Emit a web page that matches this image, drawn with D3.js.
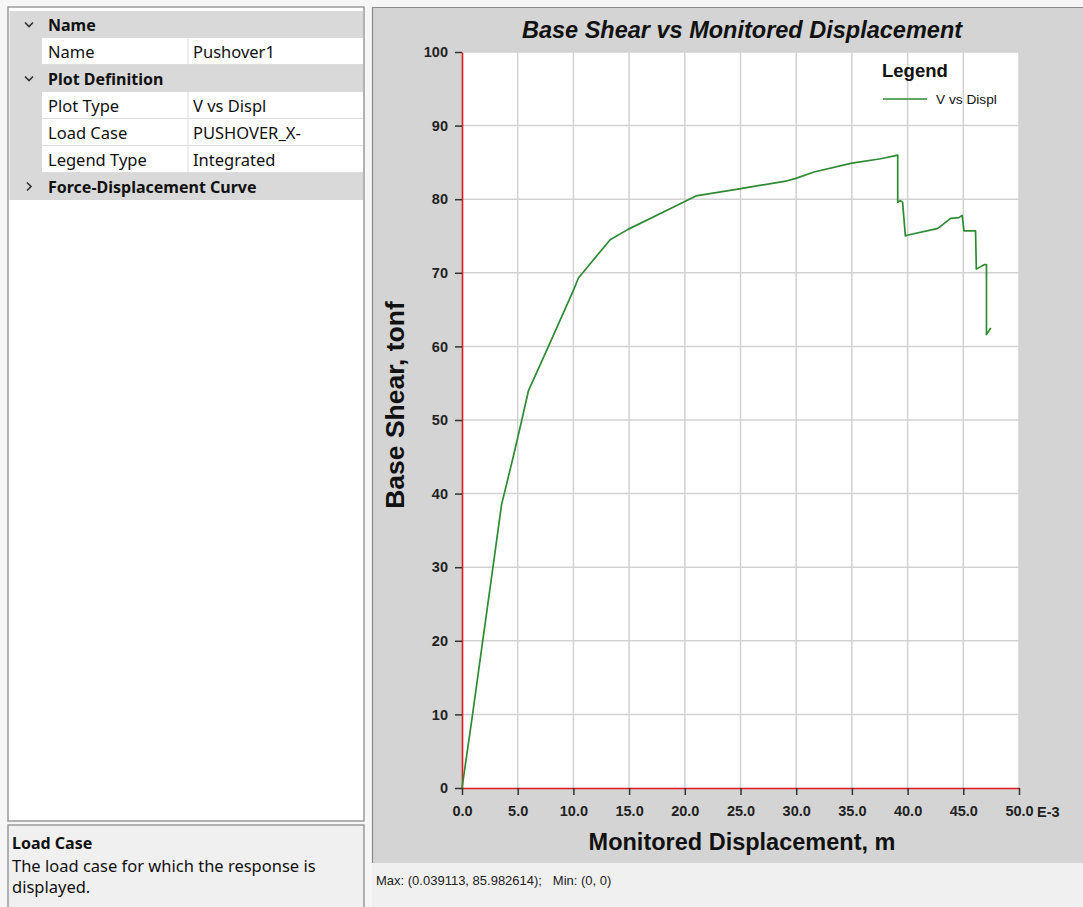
<!DOCTYPE html>
<html>
<head>
<meta charset="utf-8">
<script src="https://cdn.jsdelivr.net/npm/d3@7"></script>
<style>
  html, body { margin: 0; padding: 0; background: #f6f6f6; }
  svg { display: block; }
</style>
</head>
<body>
<svg id="chart" width="1083" height="907"></svg>
<script>
// ---------------- data ----------------
const dispE3 = [0, 0.95, 1.86, 2.78, 3.55, 4.6, 5.37, 5.97, 7.76, 10.0, 10.45, 13.3, 14.9, 19.5, 21.0, 24.9, 29.2, 29.9, 31.6, 35.0, 37.6, 39.113, 39.113, 39.34, 39.55, 39.8, 39.94, 42.65, 42.95, 43.86, 44.6, 44.9, 45.06, 46.1, 46.17, 46.87, 47.08, 47.08, 47.47];
const shear  = [0, 10, 20, 30, 38.5, 45, 50, 54, 60, 67.6, 69.3, 74.5, 75.9, 79.3, 80.45, 81.4, 82.5, 82.8, 83.7, 84.9, 85.5, 85.98, 79.6, 79.8, 79.6, 75.0, 75.1, 76.0, 76.3, 77.4, 77.5, 77.8, 75.7, 75.7, 70.5, 71.1, 71.1, 61.6, 62.5];
const xTicks = [0, 5, 10, 15, 20, 25, 30, 35, 40, 45, 50];
const yTicks = [0, 10, 20, 30, 40, 50, 60, 70, 80, 90, 100];
const xUnitSuffix = "E-3";
const chartTitle = "Base Shear vs Monitored Displacement";
const xTitle = "Monitored Displacement, m";
const yTitle = "Base Shear, tonf";
const seriesName = "V vs Displ";
const legendTitle = "Legend";
const statusText = "Max: (0.039113, 85.982614);   Min: (0, 0)";

// property grid rows: [type, label, value]
const propRows = [
  ["header", "Name", "open"],
  ["row", "Name", "Pushover1"],
  ["header", "Plot Definition", "open"],
  ["row", "Plot Type", "V vs Displ"],
  ["row", "Load Case", "PUSHOVER_X-"],
  ["row", "Legend Type", "Integrated"],
  ["header", "Force-Displacement Curve", "closed"]
];
const helpTitle = "Load Case";
const helpLines = ["The load case for which the response is", "displayed."];

// ---------------- drawing ----------------
const svg = d3.select("#chart");
const uiFont = "'Noto Sans', 'Open Sans', sans-serif";
const plotFont = "'Liberation Sans', Arial, sans-serif";
const uiSize = 16.5, uiBoldSize = 16;

// ---- left property panel ----
const left = svg.append("g");
left.append("rect").attr("x", 8).attr("y", 7).attr("width", 356).attr("height", 814)
  .attr("fill", "#ffffff").attr("stroke", "#9a9a9a").attr("stroke-width", 1.5);

const rowH = 27, rowY0 = 11, panelX0 = 9.5, panelX1 = 363, marginX = 42, colX = 188;
propRows.forEach((r, i) => {
  const y = rowY0 + i * rowH;
  if (r[0] === "header") {
    left.append("rect").attr("x", panelX0).attr("y", y).attr("width", panelX1 - panelX0).attr("height", rowH)
      .attr("fill", "#d9d9d9");
    const cx = 29, cy = y + rowH / 2;
    const pts = r[2] === "open"
      ? [[cx - 4, cy - 2], [cx, cy + 2], [cx + 4, cy - 2]]
      : [[cx - 2, cy - 4], [cx + 2, cy], [cx - 2, cy + 4]];
    left.append("path").attr("d", d3.line()(pts)).attr("fill", "none")
      .attr("stroke", "#333").attr("stroke-width", 1.6);
    left.append("text").attr("x", 48).attr("y", y + rowH / 2 + 6)
      .attr("font-family", uiFont).attr("font-size", uiBoldSize).attr("font-weight", "bold")
      .attr("fill", "#111").text(r[1]);
  } else {
    left.append("rect").attr("x", panelX0).attr("y", y).attr("width", marginX - panelX0).attr("height", rowH)
      .attr("fill", "#d9d9d9");
    left.append("rect").attr("x", marginX).attr("y", y).attr("width", panelX1 - marginX).attr("height", rowH)
      .attr("fill", "#ffffff");
    left.append("line").attr("x1", marginX).attr("x2", panelX1).attr("y1", y + rowH - 0.5).attr("y2", y + rowH - 0.5)
      .attr("stroke", "#dcdcdc").attr("stroke-width", 1);
    left.append("line").attr("x1", colX).attr("x2", colX).attr("y1", y).attr("y2", y + rowH)
      .attr("stroke", "#dcdcdc").attr("stroke-width", 1);
    left.append("text").attr("x", 48).attr("y", y + rowH / 2 + 6)
      .attr("font-family", uiFont).attr("font-size", uiSize).attr("fill", "#111").text(r[1]);
    left.append("text").attr("x", 193).attr("y", y + rowH / 2 + 6)
      .attr("font-family", uiFont).attr("font-size", uiSize).attr("fill", "#111").text(r[2]);
  }
});

// help box
left.append("rect").attr("x", 8).attr("y", 825).attr("width", 356).attr("height", 84)
  .attr("fill", "#f0f0f0").attr("stroke", "#9a9a9a").attr("stroke-width", 1.5);
left.append("text").attr("x", 12).attr("y", 849).attr("font-family", uiFont).attr("font-size", uiBoldSize)
  .attr("font-weight", "bold").attr("fill", "#111").text(helpTitle);
helpLines.forEach((t, i) => {
  left.append("text").attr("x", 12).attr("y", 872 + i * 21).attr("font-family", uiFont).attr("font-size", uiSize)
    .attr("fill", "#111").text(t);
});

// ---- right plot panel ----
svg.append("rect").attr("x", 372).attr("y", 7).attr("width", 711).attr("height", 856)
  .attr("fill", "#d4d4d4");
svg.append("path").attr("d", "M372.5,863 V7.5 H1083").attr("fill", "none")
  .attr("stroke", "#8a8a8a").attr("stroke-width", 1.2);
svg.append("rect").attr("x", 372).attr("y", 863).attr("width", 711).attr("height", 44)
  .attr("fill", "#f0f0f0");
svg.append("text").attr("x", 376).attr("y", 885).attr("font-family", plotFont).attr("font-size", 13)
  .attr("fill", "#222").style("white-space", "pre").text(statusText);

const x = d3.scaleLinear().domain([0, 50]).range([462, 1019]);
const y = d3.scaleLinear().domain([0, 100]).range([788, 52]);

// plot background
svg.append("rect").attr("x", x(0)).attr("y", y(100)).attr("width", x(50) - x(0)).attr("height", y(0) - y(100))
  .attr("fill", "#ffffff");

// grid
const grid = svg.append("g");
grid.selectAll("line.vx").data(xTicks.filter(d => d > 0)).join("line")
  .attr("x1", d => x(d)).attr("x2", d => x(d)).attr("y1", y(0)).attr("y2", y(100))
  .attr("stroke", "#d2d2d2").attr("stroke-width", 1.5);
grid.selectAll("line.hy").data(yTicks.filter(d => d > 0)).join("line")
  .attr("x1", x(0)).attr("x2", x(50)).attr("y1", d => y(d)).attr("y2", d => y(d))
  .attr("stroke", "#d2d2d2").attr("stroke-width", 1.5);

// title
svg.append("text").attr("x", 742).attr("y", 38).attr("text-anchor", "middle")
  .attr("font-family", plotFont).attr("font-size", 23.5).attr("font-weight", "bold").attr("font-style", "italic")
  .attr("fill", "#111").text(chartTitle);

// axes
const yAxis = svg.append("g").attr("transform", `translate(${x(0)},0)`)
  .call(d3.axisLeft(y).tickValues(yTicks).tickSizeInner(7).tickSizeOuter(0).tickPadding(7).tickFormat(d3.format("d")));
const xAxis = svg.append("g").attr("transform", `translate(0,${y(0)})`)
  .call(d3.axisBottom(x).tickValues(xTicks).tickSizeInner(7).tickSizeOuter(0).tickPadding(11).tickFormat(d3.format(".1f")));
[yAxis, xAxis].forEach(a => {
  a.select(".domain").attr("stroke", "#e01b1b").attr("stroke-width", 1.6);
  a.selectAll(".tick line").attr("stroke", "#333").attr("stroke-width", 1.5);
  a.selectAll(".tick text").attr("font-family", plotFont).attr("font-size", 14.5)
    .attr("font-weight", "bold").attr("fill", "#222");
});
const lastLbl = xAxis.selectAll(".tick text").filter(d => d === 50);
const lastW = lastLbl.node().getComputedTextLength();
svg.append("text").attr("x", x(50) + lastW / 2 + 4).attr("y", y(0) + 29)
  .attr("font-family", plotFont).attr("font-size", 14.5).attr("font-weight", "bold").attr("fill", "#222")
  .text(xUnitSuffix);

// axis titles
svg.append("text").attr("x", 742).attr("y", 850).attr("text-anchor", "middle")
  .attr("font-family", plotFont).attr("font-size", 23.5).attr("font-weight", "bold").attr("fill", "#111").text(xTitle);
svg.append("text").attr("transform", `translate(404,405) rotate(-90)`).attr("text-anchor", "middle")
  .attr("font-family", plotFont).attr("font-size", 26.5).attr("font-weight", "bold").attr("fill", "#111").text(yTitle);

// curve
const pts = dispE3.map((d, i) => ({ x: d, y: shear[i] }));
svg.append("path").datum(pts)
  .attr("d", d3.line().x(d => x(d.x)).y(d => y(d.y)))
  .attr("fill", "none").attr("stroke", "#2f8a34").attr("stroke-width", 1.7).attr("stroke-linejoin", "round");

// legend
svg.append("text").attr("x", 882).attr("y", 77).attr("font-family", plotFont).attr("font-size", 18.5)
  .attr("font-weight", "bold").attr("fill", "#111").text(legendTitle);
svg.append("line").attr("x1", 883).attr("x2", 927).attr("y1", 99).attr("y2", 99)
  .attr("stroke", "#2f8a34").attr("stroke-width", 1.7);
svg.append("text").attr("x", 936).attr("y", 104).attr("font-family", plotFont).attr("font-size", 13.7)
  .attr("fill", "#111").text(seriesName);
</script>
</body>
</html>
